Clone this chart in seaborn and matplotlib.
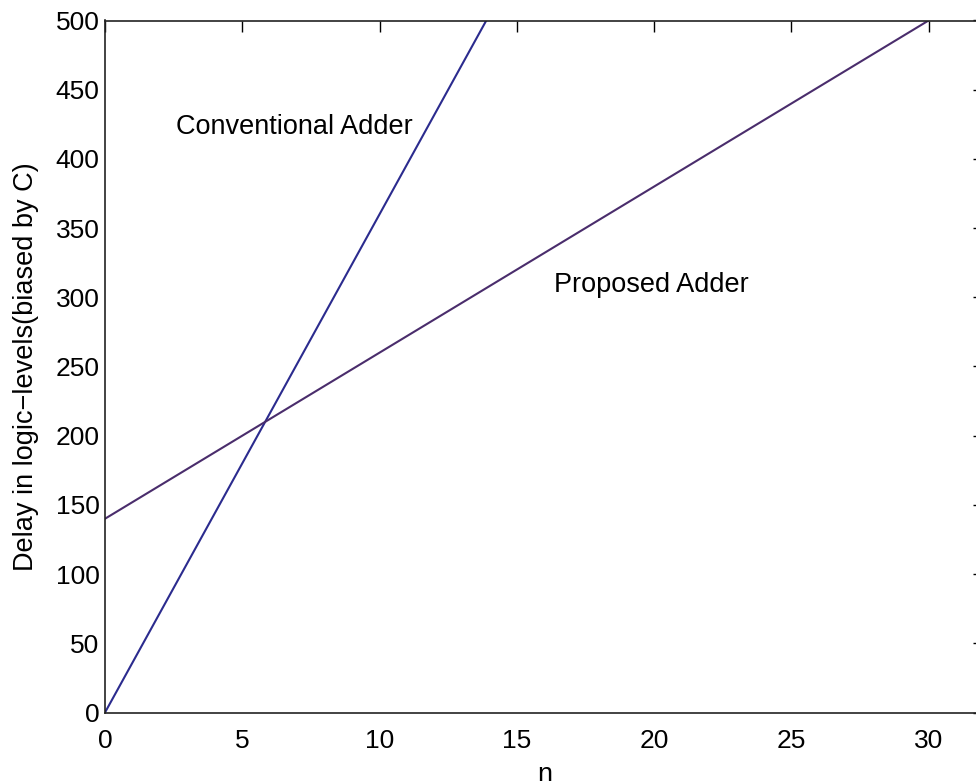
import matplotlib
matplotlib.use("Agg")
import matplotlib.pyplot as plt
import seaborn as sns
import pandas as pd

# Data
n_values = [0, 30]
conventional_delay = [0, 1080]
proposed_delay = [140, 500]
x_ticks = [0, 5, 10, 15, 20, 25, 30]
y_ticks = [0, 50, 100, 150, 200, 250, 300, 350, 400, 450, 500]

sns.set_style("white")
plt.rcParams['font.family'] = ['Liberation Sans', 'DejaVu Sans']
plt.rcParams['text.color'] = 'black'
plt.rcParams['axes.labelcolor'] = 'black'

fig = plt.figure(figsize=(9.76, 7.81), dpi=100)
W, H = 976, 781
left_px, right_px, top_px, bottom_px = 105, 983.5, 20.5, 712.5
ax = fig.add_axes([left_px / W, 1 - bottom_px / H,
                   (right_px - left_px) / W, (bottom_px - top_px) / H])

df_c = pd.DataFrame({"n": n_values, "delay": conventional_delay})
df_p = pd.DataFrame({"n": n_values, "delay": proposed_delay})
sns.lineplot(data=df_c, x="n", y="delay", ax=ax, color="#2b2b8e", lw=1.5)
sns.lineplot(data=df_p, x="n", y="delay", ax=ax, color="#4a2d6c", lw=1.5)

ax.set_xlim(0, 32)
ax.set_ylim(0, 500)
ax.set_xticks(x_ticks)
ax.set_yticks(y_ticks)
ax.tick_params(direction="in", length=8, width=1, top=True, right=True,
               labelsize=19, colors="black")
ax.tick_params(axis="x", pad=12)
ax.tick_params(axis="y", pad=4)
for s in ax.spines.values():
    s.set_color("#222222")
    s.set_linewidth(1.2)

ax.set_xlabel("n", fontsize=19.5, labelpad=6)
ax.set_ylabel("Delay in logic\u2212levels(biased by C)", fontsize=19.5, labelpad=12)

ax.text(6.9, 423, "Conventional Adder", fontsize=19.5, ha="center", va="center")
ax.text(19.9, 309, "Proposed Adder", fontsize=19.5, ha="center", va="center")

fig.savefig("out.png", dpi=100)
